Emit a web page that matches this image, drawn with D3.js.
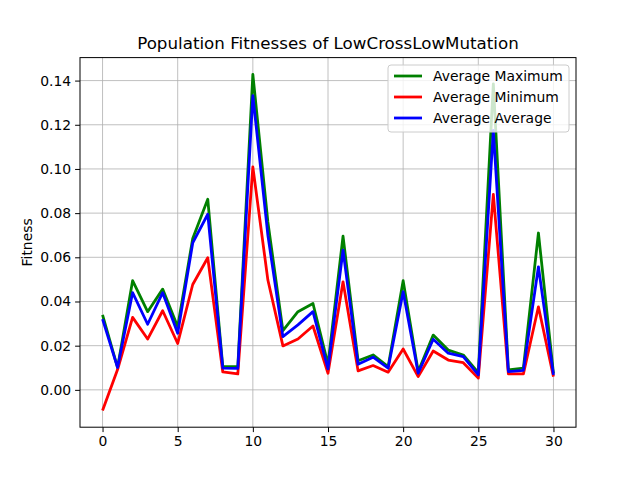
<!DOCTYPE html>
<html>
<head>
<meta charset="utf-8">
<script src="https://cdn.jsdelivr.net/npm/d3@7"></script>
<style>
  body { margin: 0; background: #fff; }
  svg { font-family: "DejaVu Sans", sans-serif; }
</style>
</head>
<body>
<div id="chart"></div>
<script>
// generation index
const generations = d3.range(0, 31);

// series values
const avgMaximum = [
  0.0339, 0.0101, 0.0494, 0.0354, 0.0456, 0.0286, 0.0685, 0.0863, 0.0105, 0.0105,
  0.1428, 0.0760, 0.0268, 0.0354, 0.0391, 0.0115, 0.0696, 0.0132, 0.0158, 0.0105,
  0.0494, 0.0083, 0.0248, 0.0180, 0.0158, 0.0078, 0.1385, 0.0090, 0.0098, 0.0710,
  0.0075
];
const avgMinimum = [
  -0.0093, 0.0092, 0.0328, 0.0230, 0.0358, 0.0210, 0.0477, 0.0598, 0.0081, 0.0072,
  0.1009, 0.0497, 0.0199, 0.0230, 0.0289, 0.0075, 0.0489, 0.0086, 0.0110, 0.0080,
  0.0185, 0.0060, 0.0176, 0.0135, 0.0123, 0.0053, 0.0885, 0.0072, 0.0072, 0.0376,
  0.0060
];
const avgAverage = [
  0.0320, 0.0101, 0.0440, 0.0297, 0.0440, 0.0256, 0.0665, 0.0795, 0.0098, 0.0097,
  0.1332, 0.0700, 0.0241, 0.0294, 0.0354, 0.0095, 0.0632, 0.0116, 0.0148, 0.0098,
  0.0444, 0.0075, 0.0229, 0.0166, 0.0150, 0.0068, 0.1174, 0.0083, 0.0088, 0.0557,
  0.0068
];

const xTicks = [0, 5, 10, 15, 20, 25, 30];
const yTicks = [0.00, 0.02, 0.04, 0.06, 0.08, 0.10, 0.12, 0.14];

const seriesNames = ["Average Maximum", "Average Minimum", "Average Average"];
const seriesColors = ["green", "red", "blue"];
const seriesData = [avgMaximum, avgMinimum, avgAverage];

const width = 640, height = 480;
const margin = { top: 57.6, right: 64, bottom: 52.8, left: 80 };
const lineW = 2.78; // 2pt at 100dpi

const svg = d3.select("#chart").append("svg")
  .attr("width", width)
  .attr("height", height);

// matplotlib style 5% padding on both axes
const allVals = seriesData.flat();
const yMin = d3.min(allVals), yMax = d3.max(allVals);
const yPad = (yMax - yMin) * 0.05;

const x = d3.scaleLinear()
  .domain([-1.5, 31.5])
  .range([margin.left, width - margin.right]);
const y = d3.scaleLinear()
  .domain([yMin - yPad, yMax + yPad])
  .range([height - margin.bottom, margin.top]);

// grid
const grid = svg.append("g").attr("stroke", "#b0b0b0").attr("stroke-width", 0.8);
grid.selectAll(".vgrid").data(xTicks).join("line")
  .attr("x1", d => x(d)).attr("x2", d => x(d))
  .attr("y1", margin.top).attr("y2", height - margin.bottom);
grid.selectAll(".hgrid").data(yTicks).join("line")
  .attr("y1", d => y(d)).attr("y2", d => y(d))
  .attr("x1", margin.left).attr("x2", width - margin.right);

// series lines
const line = d3.line()
  .x((d, i) => x(generations[i]))
  .y(d => y(d));

svg.append("g").selectAll("path")
  .data(seriesData)
  .join("path")
  .attr("fill", "none")
  .attr("stroke", (d, i) => seriesColors[i])
  .attr("stroke-width", lineW)
  .attr("stroke-linejoin", "round")
  .attr("d", line);

// axes
const xAxis = d3.axisBottom(x).tickValues(xTicks).tickSize(4.9).tickPadding(4).tickFormat(d3.format("d"));
const yAxis = d3.axisLeft(y).tickValues(yTicks).tickSize(4.9).tickPadding(4).tickFormat(d3.format(".2f"));

svg.append("g")
  .attr("transform", `translate(0,${height - margin.bottom})`)
  .call(xAxis)
  .call(g => g.select(".domain").remove())
  .call(g => g.selectAll("text").attr("font-size", 13.9).attr("fill", "#000").attr("font-family", "DejaVu Sans"));

svg.append("g")
  .attr("transform", `translate(${margin.left},0)`)
  .call(yAxis)
  .call(g => g.select(".domain").remove())
  .call(g => g.selectAll("text").attr("font-size", 13.9).attr("fill", "#000").attr("font-family", "DejaVu Sans"));

// frame
svg.append("rect")
  .attr("x", margin.left).attr("y", margin.top)
  .attr("width", width - margin.left - margin.right)
  .attr("height", height - margin.top - margin.bottom)
  .attr("fill", "none").attr("stroke", "#000").attr("stroke-width", 1);

// title and label
svg.append("text")
  .attr("x", (margin.left + width - margin.right) / 2)
  .attr("y", margin.top - 9)
  .attr("text-anchor", "middle")
  .attr("font-size", 16.7)
  .text("Population Fitnesses of LowCrossLowMutation");

svg.append("text")
  .attr("transform", `translate(32,${(margin.top + height - margin.bottom) / 2}) rotate(-90)`)
  .attr("text-anchor", "middle")
  .attr("font-size", 13.9)
  .text("Fitness");

// legend
const legend = svg.append("g").attr("transform", "translate(388,65)");
legend.append("rect")
  .attr("width", 181).attr("height", 67)
  .attr("rx", 3)
  .attr("fill", "#fff").attr("fill-opacity", 0.8)
  .attr("stroke", "#cccccc").attr("stroke-width", 1);

const rows = legend.selectAll(".row").data(seriesNames).join("g")
  .attr("transform", (d, i) => `translate(0,${11 + i * 21})`);
rows.append("line")
  .attr("x1", 6).attr("x2", 34)
  .attr("stroke", (d, i) => seriesColors[i])
  .attr("stroke-width", lineW);
rows.append("text")
  .attr("x", 45).attr("dy", "0.35em")
  .attr("font-size", 13.9)
  .text(d => d);
</script>
</body>
</html>
